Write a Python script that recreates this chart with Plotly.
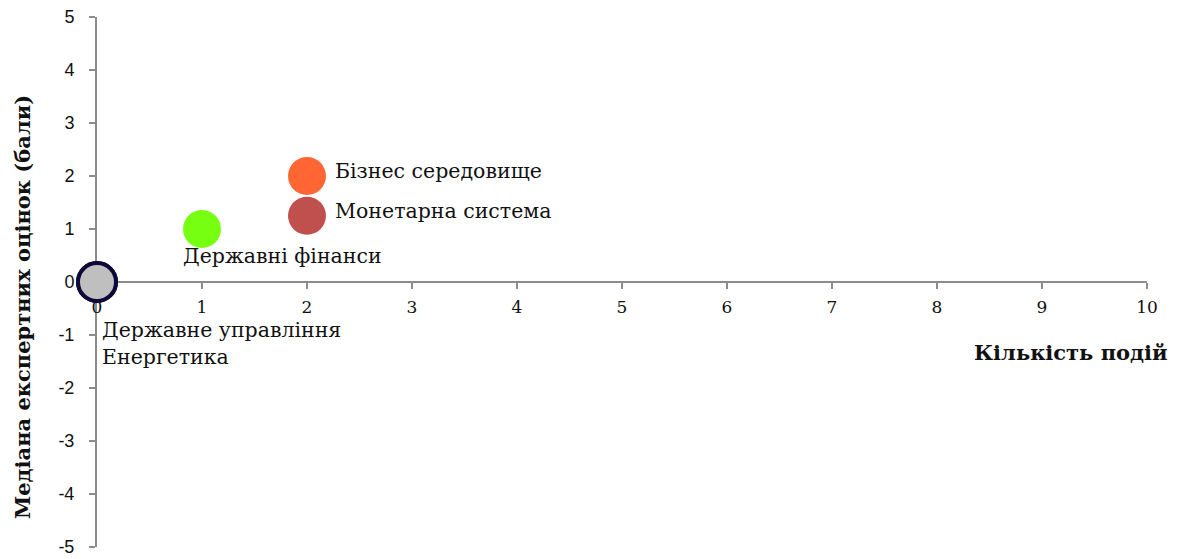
import plotly.graph_objects as go

# Data
categories = ["Бізнес середовище", "Монетарна система", "Державні фінанси",
              "Державне управління", "Енергетика"]
events = [2, 2, 1, 0, 0]
median_scores = [2, 1.25, 1, 0, 0]
x_ticks = list(range(0, 11))
y_ticks = list(range(-5, 6))
y_tick_labels = [str(v) for v in y_ticks]
x_title = "Кількість подій"
y_title = "Медіана експертних оцінок (бали)"

# Styles
colors = ["#FF6633", "#C0504D", "#77FF11", "#BFBFBF", "#BFBFBF"]
line_colors = ["#FF6633", "#C0504D", "#77FF11", "#0E0838", "#0E0838"]
line_widths = [0, 0, 0, 4, 4]
serif = "DejaVu Serif"
sans = "Liberation Sans"
axis_color = "#8C8C8C"

fig = go.Figure()
fig.add_trace(go.Scatter(
    x=events, y=median_scores, mode="markers",
    marker=dict(size=38, color=colors,
                line=dict(color=line_colors, width=line_widths), opacity=1),
    cliponaxis=False, showlegend=False, hoverinfo="text", text=categories,
))

# Label placement (pixel offsets from each point)
label_style = {
    "Бізнес середовище": dict(xanchor="left", yanchor="middle", xshift=26, yshift=5),
    "Монетарна система": dict(xanchor="left", yanchor="middle", xshift=26, yshift=5),
    "Державні фінанси": dict(xanchor="left", yanchor="middle", xshift=-21, yshift=-27),
    "Державне управління": dict(xanchor="left", yanchor="middle", xshift=3, yshift=-48),
    "Енергетика": dict(xanchor="left", yanchor="middle", xshift=3, yshift=-75),
}
for name, xv, yv in zip(categories, events, median_scores):
    st = label_style[name]
    fig.add_annotation(x=xv, y=yv, xref="x", yref="y", text=name, showarrow=False,
                       font=dict(family=serif, size=20.5, color="#111111"), **st)

fig.add_annotation(x=1.0, y=0.5, xref="paper", yref="paper", text="<b>" + x_title + "</b>",
                   showarrow=False, xanchor="right", yanchor="middle", xshift=23, yshift=-70,
                   font=dict(family=serif, size=21, color="#111111"))
fig.add_annotation(x=0, y=0.5, xref="paper", yref="paper", text="<b>" + y_title + "</b>",
                   showarrow=False, textangle=-90, xanchor="center", yanchor="middle",
                   xshift=-75, yshift=-25,
                   font=dict(family=serif, size=21, color="#111111"))

# The page body adds an 8px offset, so the figure is sized to fit the window
fig.update_layout(
    width=1170, height=551,
    margin=dict(l=89, r=31, t=9, b=12, autoexpand=False),
    paper_bgcolor="white", plot_bgcolor="white",
    xaxis=dict(range=[0, 10], tickvals=x_ticks, showgrid=False, zeroline=False,
               showline=True, linecolor=axis_color, linewidth=2,
               ticks="outside", ticklen=6, tickcolor=axis_color, tickwidth=2,
               anchor="free", position=0.5, automargin=False, layer="below traces",
               ticklabelstandoff=4, ticklabeloverflow="allow",
               tickfont=dict(family=serif, size=17, color="#111111")),
    yaxis=dict(range=[-5, 5], tickvals=y_ticks, ticktext=y_tick_labels,
               showgrid=False, zeroline=False,
               showline=True, linecolor=axis_color, linewidth=2,
               ticks="outside", ticklen=6, tickcolor=axis_color, tickwidth=2,
               automargin=False, layer="below traces", ticklabelstandoff=11,
               ticklabeloverflow="allow",
               tickfont=dict(family=sans, size=18, color="#111111")),
)

fig.write_html("out.html")
